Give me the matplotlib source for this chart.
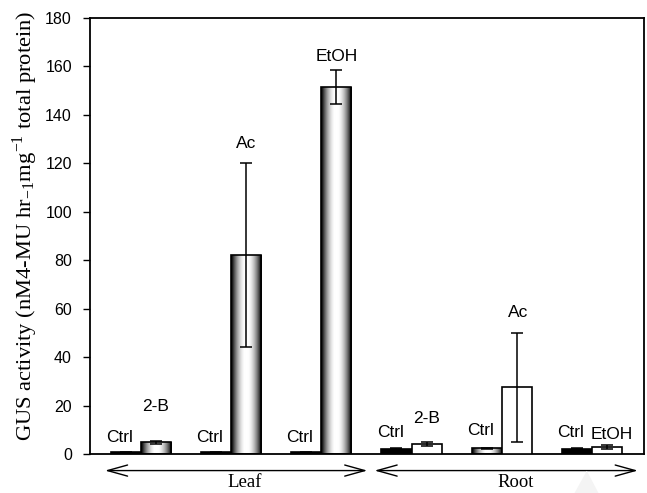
import numpy as np
import matplotlib
matplotlib.use('Agg')
import matplotlib.pyplot as plt
from matplotlib.patches import Polygon

# data
tissues = ["Leaf", "Root"]
treatments = ["2-B", "Ac", "EtOH"]
leaf_ctrl = [0.7, 0.7, 0.7]
leaf_ctrl_err = [0.3, 0.3, 0.3]
leaf_trt = [4.8, 82.0, 151.5]
leaf_trt_err = [0.5, 38.0, 7.0]
root_ctrl = [2.2, 2.3, 2.2]
root_ctrl_err = [0.2, 0.2, 0.2]
root_trt = [4.0, 27.5, 2.8]
root_trt_err = [0.8, 22.5, 0.8]

ctrl_vals = leaf_ctrl + root_ctrl
ctrl_errs = leaf_ctrl_err + root_ctrl_err
trt_vals = leaf_trt + root_trt
trt_errs = leaf_trt_err + root_trt_err
trt_names = treatments + treatments

# fill style per bar: 'grad' cylinder shading, 'black', 'white'
ctrl_fill = ['black', 'black', 'black', 'black', 'grad', 'black']
trt_fill = ['grad', 'grad', 'grad', 'white', 'white', 'white']

# text label placement (baseline in data units, small x nudges)
ctrl_label_y = [5.1, 5.1, 5.1, 7.1, 7.8, 7.1]
trt_label_y = [17.9, 126.2, 162.4, 12.7, 56.7, 6.0]
trt_label_dx = [0, 0, 0, 0, 0.02, 0.06]

sans = ['Liberation Sans', 'DejaVu Sans']
serif = ['Liberation Serif', 'DejaVu Serif']
plt.rcParams['mathtext.fontset'] = 'stix'

fig = plt.figure(figsize=(6.47, 4.93), dpi=100)
ax = fig.add_axes([0.1391, 0.0791, 0.8563, 0.8844])

w = 0.333
pos = np.arange(len(ctrl_vals))

t = np.linspace(0, 1, 80)
shade = np.clip(1.12 * np.sin(np.pi * t) ** 0.85 - 0.1, 0, 1)
grad = shade[np.newaxis, :]


def draw_bar(x, h, err, fill):
    x0 = x - w / 2
    if fill == 'grad':
        ax.imshow(grad, extent=[x0, x0 + w, 0, h], aspect='auto', cmap='gray',
                  vmin=0, vmax=1, zorder=2, interpolation='bicubic')
        fc = 'none'
    else:
        fc = fill
    ax.bar(x, h, width=w, color=fc, edgecolor='black', linewidth=1.2, zorder=3)
    ax.errorbar(x, h, yerr=err, fmt='none', ecolor='black', elinewidth=1.1,
                capsize=4, capthick=1.1, zorder=4)


for i in pos:
    cx = i - w / 2
    tx = i + w / 2
    draw_bar(cx, ctrl_vals[i], ctrl_errs[i], ctrl_fill[i])
    draw_bar(tx, trt_vals[i], trt_errs[i], trt_fill[i])
    ax.text(cx - 0.07, ctrl_label_y[i], "Ctrl", ha='center', va='baseline',
            fontsize=12.5, family=sans)
    ax.text(tx + trt_label_dx[i], trt_label_y[i], trt_names[i], ha='center',
            va='baseline', fontsize=12.5, family=sans)

ax.set_xlim(-0.566, 5.579)
ax.set_ylim(0, 180)
ax.set_yticks(np.arange(0, 181, 20))
ax.set_xticks([])
ax.tick_params(axis='y', direction='out', length=5, width=1, pad=8, labelsize=11.5)
for lab in ax.get_yticklabels():
    lab.set_family(sans)
for sp in ax.spines.values():
    sp.set_linewidth(1.3)

ax.set_ylabel(r"GUS activity (nM4-MU hr$_{\mathregular{-1}}$mg$^{\mathregular{-1}}$ total protein)",
              fontsize=16.2, family=serif)
ax.yaxis.set_label_coords(-0.09, 0.523)

# tissue arrows below the axis
trans = ax.get_xaxis_transform()
spans = [(-0.4, 2.51), (2.59, 5.51)]
for name, (a, b) in zip(tissues, spans):
    ax.annotate("", xy=(a, -0.038), xytext=(b, -0.038), xycoords=trans,
                textcoords=trans, annotation_clip=False,
                arrowprops=dict(arrowstyle='<->,head_length=0.72,head_width=0.2',
                                mutation_scale=20, lw=1, color='black',
                                shrinkA=0, shrinkB=0))
    ax.text((a + b) / 2 + 0.1, -0.066, name, transform=trans, ha='center',
            va='center', fontsize=13.5, family=serif)

# faint watermark triangle
fig.patches.append(Polygon([[0.888, 0.0], [0.925, 0.0], [0.907, 0.045]],
                           closed=True, transform=fig.transFigure,
                           facecolor='#f4f4f4', edgecolor='none'))

fig.savefig('out.png', dpi=100)
